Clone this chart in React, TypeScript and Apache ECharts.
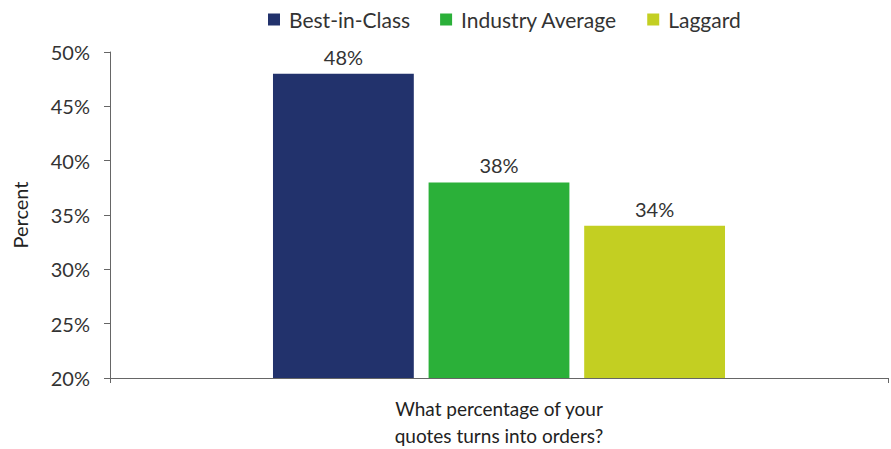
import React, { useEffect, useRef } from "react";
import * as echarts from "echarts";

const categories = ["What percentage of your\nquotes turns into orders?"];
const seriesNames = ["Best-in-Class", "Industry Average", "Laggard"];
const bestInClass = [48];
const industryAverage = [38];
const laggard = [34];
const colors = ["#22326c", "#2bb039", "#c3cf22"];

export default function App() {
  const ref = useRef<HTMLDivElement>(null);
  useEffect(() => {
    document.body.style.margin = "0";
    const chart = echarts.init(ref.current!, null, { renderer: "svg" });
    const font = "Lato, 'Open Sans', sans-serif";
    const values = [bestInClass, industryAverage, laggard];
    chart.setOption({
      animation: false,
      textStyle: { fontFamily: font },
      legend: {
        top: 4,
        left: 263,
        itemWidth: 12,
        itemHeight: 12,
        itemGap: 30,
        icon: "rect",
        textStyle: { fontSize: 21, color: "#333", fontFamily: font, padding: [0, 0, 0, 4] },
        data: seriesNames,
      },
      grid: { left: 110, right: 3, top: 52, bottom: 68, containLabel: false },
      xAxis: {
        type: "category",
        data: categories,
        axisLine: { lineStyle: { color: "#666", width: 1 } },
        axisTick: { show: true, alignWithLabel: false, length: 5, lineStyle: { color: "#666" } },
        axisLabel: { fontSize: 19, color: "#222", lineHeight: 27, margin: 17, fontFamily: font },
      },
      yAxis: {
        type: "value",
        min: 20,
        max: 50,
        interval: 5,
        name: "Percent",
        nameLocation: "middle",
        nameRotate: 90,
        nameGap: 80,
        nameTextStyle: { fontSize: 20, color: "#222", fontFamily: font },
        axisLine: { show: true, lineStyle: { color: "#666", width: 1 } },
        axisTick: { show: true, length: 6, lineStyle: { color: "#666" } },
        splitLine: { show: false },
        axisLabel: { formatter: "{value}%", fontSize: 20, color: "#333", margin: 20, fontFamily: font },
      },
      series: seriesNames.map((name, i) => ({
        name,
        type: "bar",
        data: values[i],
        barWidth: "18.1%",
        barGap: "10.5%",
        itemStyle: { color: colors[i] },
        label: {
          show: true,
          position: "top",
          distance: 7,
          formatter: "{c}%",
          fontSize: 20,
          color: "#333",
          fontFamily: font,
        },
      })),
    });
    return () => chart.dispose();
  }, []);
  return <div ref={ref} style={{ width: 891, height: 449 }} />;
}
